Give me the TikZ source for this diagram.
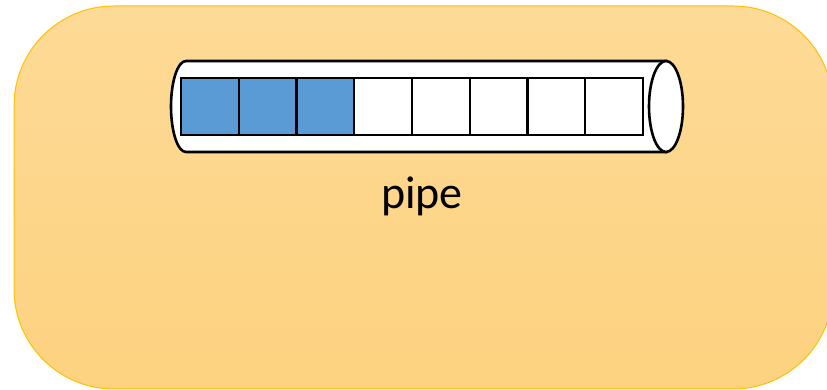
\documentclass[tikz,border=0pt]{standalone}
\usepackage{fontspec}
\setmainfont{Carlito}
\definecolor{boxtop}{RGB}{253,218,150}
\definecolor{boxbottom}{RGB}{253,210,128}
\definecolor{boxedge}{RGB}{255,192,0}
\definecolor{cellblue}{RGB}{91,155,213}
\tikzset{
  container/.style={top color=boxtop, bottom color=boxbottom, draw=boxedge, line width=1pt, rounded corners=100pt},
  pipebody/.style={draw=black, fill=white, line width=2.6pt},
  slot/.style={draw=black, line width=2.4pt, minimum width=57.75pt, minimum height=57pt, inner sep=0pt, outer sep=0pt, anchor=south west},
}
\begin{document}
\begin{tikzpicture}[x=1pt,y=1pt]
\useasboundingbox (0,0) rectangle (827,390);
% background panel
\shade[container] (14,1) rectangle (833,384);
% pipe: rear cap, body and front opening
\draw[pipebody] (186,329) -- (666,329) -- (666,238) -- (186,238)
  arc[start angle=270, end angle=90, x radius=15, y radius=45.5] -- cycle;
\draw[pipebody] (666,283.5) ellipse [x radius=17, y radius=45.5];
% buffer slots, the first three filled
\foreach \i in {0,...,7} {
  \pgfmathsetmacro{\xx}{181+57.75*\i}
  \ifnum\i<3
    \node[slot, fill=cellblue] (slot\i) at (\xx,255) {};
  \else
    \node[slot, fill=white] (slot\i) at (\xx,255) {};
  \fi
}
\node[anchor=base, font=\fontsize{46}{55}\selectfont] (label) at (422,181) {pipe};
\end{tikzpicture}
\end{document}
